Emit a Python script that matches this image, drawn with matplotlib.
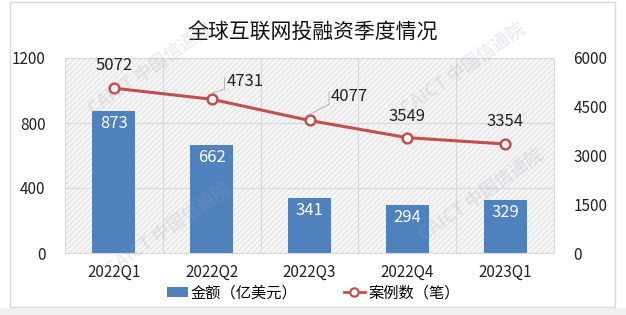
import numpy as np
import matplotlib.pyplot as plt
from matplotlib.patches import Rectangle
from matplotlib.lines import Line2D
from matplotlib.patches import Patch

plt.rcParams['font.family'] = ['Noto Sans CJK SC', 'DejaVu Sans']

# Datos
trimestres = ["2022Q1", "2022Q2", "2022Q3", "2022Q4", "2023Q1"]
monto = [873, 662, 341, 294, 329]          # 亿美元
casos = [5072, 4731, 4077, 3549, 3354]     # 笔
ticks_izq = [0, 400, 800, 1200]
ticks_der = [0, 1500, 3000, 4500, 6000]

titulo = "全球互联网投融资季度情况"
etq_barra = "金额（亿美元）"
etq_linea = "案例数（笔）"

color_barra = "#4F81BD"
color_linea = "#C0504D"

fig = plt.figure(figsize=(6.26, 3.15), dpi=100, facecolor="white")

ax = fig.add_axes([65/626, 1 - 253/315, 489/626, 195/315])
ax.set_facecolor("#f7f7f7")
ax.add_patch(Rectangle((0, 0), 1, 1, transform=ax.transAxes, facecolor="none",
                       edgecolor="#e6e6e6", hatch="//////", lw=0, zorder=0))

x = np.arange(len(trimestres))
barras = ax.bar(x, monto, width=0.44, color=color_barra, zorder=2)
for xi, v in zip(x, monto):
    ax.text(xi, v - 25, str(v), ha="center", va="top", color="white", fontsize=12, zorder=3)

ax.set_xlim(-0.5, len(trimestres) - 0.5)
ax.set_ylim(0, 1200)
ax.set_yticks(ticks_izq)
ax.set_xticks(x)
ax.set_xticklabels(trimestres)
ax.tick_params(length=0, labelsize=11, colors="#222222")
ax.tick_params(axis="y", pad=14)
ax.tick_params(axis="x", pad=8)

# rejilla
for yv in ticks_izq[1:]:
    ax.axhline(yv, color="#d9d9d9", lw=0.8, zorder=1)
for xv in np.arange(0.5, len(trimestres) - 0.5, 1):
    ax.axvline(xv, color="#d9d9d9", lw=0.8, zorder=1)
for s in ax.spines.values():
    s.set_color("#d9d9d9")
    s.set_linewidth(0.8)

ax2 = ax.twinx()
ax2.plot(x, casos, color=color_linea, lw=2.2, marker="o", markersize=7,
         markerfacecolor="white", markeredgecolor=color_linea, markeredgewidth=1.8, zorder=4)
ax2.set_ylim(0, 6000)
ax2.set_yticks(ticks_der)
ax2.tick_params(length=0, labelsize=11, colors="#222222", pad=14)
for s in ax2.spines.values():
    s.set_visible(False)

# etiquetas de la línea
desp = [(0.0, 700), (0.15, 550), (0.22, 750), (0.0, 650), (0.0, 700)]
for i, (xi, v) in enumerate(zip(x, casos)):
    dx, dy = desp[i]
    ax2.text(xi + dx, v + dy, str(v), ha="left" if dx > 0 else "center", va="center",
             fontsize=12, color="#222222", zorder=5)
    if dx > 0:
        ax2.plot([xi + dx - 0.02, xi + dx - 0.02, xi + 0.01],
                 [v + dy + 120, v + dy - 250, v + 200], color="#aaaaaa", lw=0.6)

fig.text(0.5, 0.895, titulo, ha="center", va="center", fontsize=15, color="#111111")

# marcas de agua
for (wx, wy) in [(0.24, 0.78), (0.74, 0.78), (0.27, 0.27), (0.77, 0.38)]:
    fig.text(wx, wy, "CAICT 中国信通院", fontsize=13, fontweight="bold", color="#9aa6b8",
             alpha=0.2, rotation=35, ha="center", va="center", zorder=10)

h1 = Patch(facecolor=color_barra, edgecolor="none")
h2 = Line2D([], [], color=color_linea, lw=2, marker="o", markersize=6,
            markerfacecolor="white", markeredgewidth=1.6)
fig.legend([h1, h2], [etq_barra, etq_linea], loc="center", bbox_to_anchor=(0.5, 0.07),
           ncol=2, frameon=False, fontsize=11, handlelength=1.4, columnspacing=3,
           handletextpad=0.2)

# marco de la figura
fig.add_artist(Rectangle((10/626, 8/315), 605/626, 305/315, transform=fig.transFigure,
                         facecolor="none", edgecolor="#d9d9d9", lw=1, zorder=-5))
fig.add_artist(Rectangle((0, 0), 1, 7/315, transform=fig.transFigure,
                         facecolor="#f0f0f0", edgecolor="none", zorder=-5))

fig.savefig("out.png", dpi=100)
